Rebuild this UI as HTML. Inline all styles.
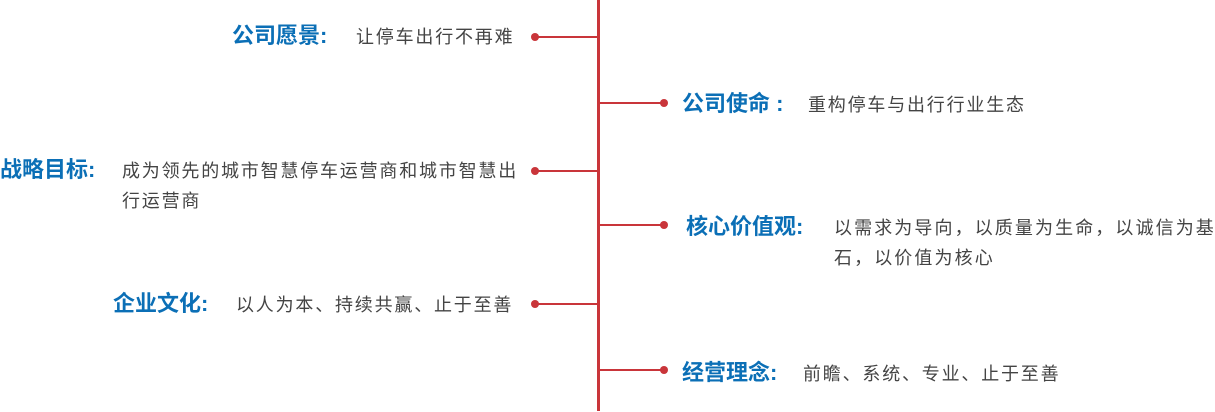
<!DOCTYPE html>
<html><head><meta charset="utf-8"><style>
body{margin:0;width:1215px;height:412px;background:#fff;position:relative;overflow:hidden;font-family:"Liberation Sans","Noto Sans CJK SC",sans-serif}
.l{position:absolute;font-size:22px;font-weight:bold;color:#0b6fb6;line-height:26px;white-space:nowrap}
.b{position:absolute;font-size:18px;color:#444;line-height:30px;letter-spacing:1.8px;white-space:nowrap}
.h{position:absolute;height:2px;background:#c9353a}
.d{position:absolute;width:8px;height:8px;border-radius:50%;background:#c9353a}
</style></head><body>
<div style="position:absolute;left:597px;top:0;width:3px;height:411px;background:#c9353a"></div>
<div class="h" style="left:536px;top:36px;width:62px"></div><div class="d" style="left:531px;top:33px"></div>
<div class="h" style="left:536px;top:170px;width:62px"></div><div class="d" style="left:531px;top:167px"></div>
<div class="h" style="left:536px;top:303px;width:62px"></div><div class="d" style="left:531px;top:300px"></div>
<div class="h" style="left:600px;top:102px;width:64px"></div><div class="d" style="left:660px;top:99px"></div>
<div class="h" style="left:600px;top:224px;width:64px"></div><div class="d" style="left:660px;top:221px"></div>
<div class="h" style="left:600px;top:369px;width:64px"></div><div class="d" style="left:660px;top:366px"></div>

<div class="l" style="left:232px;top:23px">公司愿景:</div>
<div class="b" style="left:356px;top:22px">让停车出行不再难</div>
<div class="l" style="left:0px;top:157px">战略目标:</div>
<div class="b" style="left:122px;top:156px">成为领先的城市智慧停车运营商和城市智慧出<br>行运营商</div>
<div class="l" style="left:113px;top:291px">企业文化:</div>
<div class="b" style="left:236px;top:290px">以人为本、持续共赢、止于至善</div>

<div class="l" style="left:682px;top:91px">公司使命 :</div>
<div class="b" style="left:808px;top:90px">重构停车与出行行业生态</div>
<div class="l" style="left:686px;top:214px">核心价值观:</div>
<div class="b" style="left:834px;top:213px;letter-spacing:2.1px">以需求为导向，以质量为生命，以诚信为基<br>石，以价值为核心</div>
<div class="l" style="left:682px;top:360px">经营理念:</div>
<div class="b" style="left:803px;top:359px">前瞻、系统、专业、止于至善</div>
</body></html>
